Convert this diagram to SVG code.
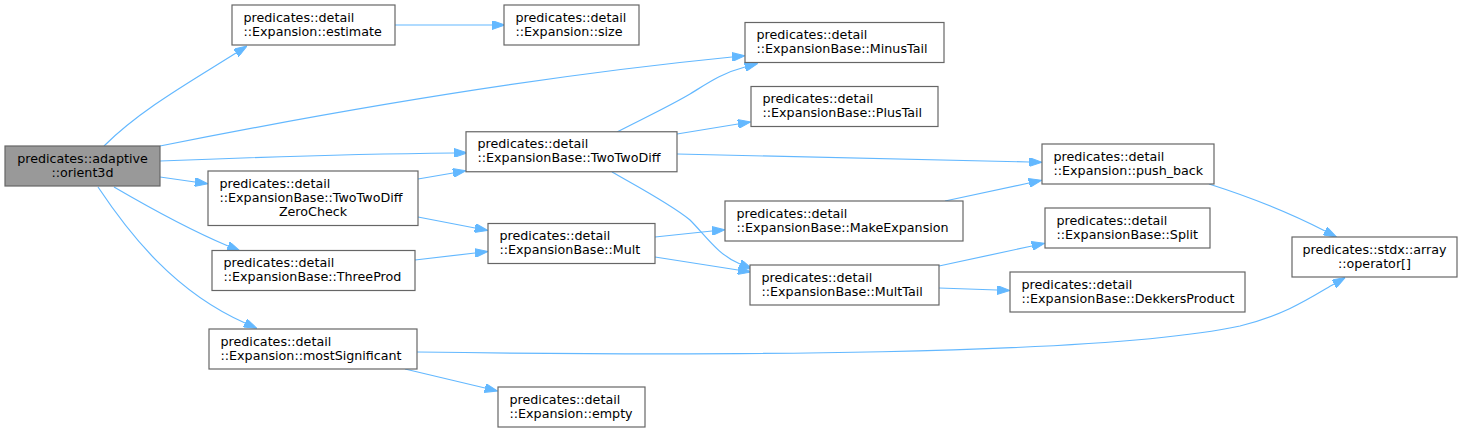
<svg xmlns="http://www.w3.org/2000/svg" width="1472" height="432" viewBox="0 0 1472 432">
<style>
.n rect{fill:#fff;stroke:#666;stroke-width:1.2}
.n.r rect{fill:#999}
text{font-family:"DejaVu Sans",sans-serif;font-size:12.7px;fill:#000}
.m{text-anchor:middle}
.e path{fill:none;stroke:#63b8ff;stroke-width:1.2;marker-end:url(#a)}
</style>
<defs>
<marker id="a" markerUnits="userSpaceOnUse" viewBox="0 0 13 9" refX="0" refY="4.5" markerWidth="13" markerHeight="9" orient="auto"><path d="M0,0L13,4.5L0,9z" fill="#63b8ff" stroke="#63b8ff" stroke-width="1"/></marker>
</defs>
<rect width="1472" height="432" fill="#fff"/>
<g class="e" id="edges">
<path d="M104,146 C140,110 190,82 236,53"/>
<path d="M395,25 L492,25"/>
<path d="M160,146 C300,118 520,78 732,57"/>
<path d="M160,161 C260,157 360,154 454,153"/>
<path d="M160,177 L195,182"/>
<path d="M114,187 C150,208 190,230 228,246"/>
<path d="M98,187 C130,235 175,292 245,323"/>
<path d="M418,179 L453,173"/>
<path d="M418,217 L475,228"/>
<path d="M415,260 L475,253"/>
<path d="M617,132 C640,120 668,107 690,94 C708,83 722,73 745,67"/>
<path d="M677,134 L738,124"/>
<path d="M677,154 C800,157 920,160 1029,162"/>
<path d="M612,172 C640,188 672,205 690,220 C706,236 718,255 740,264"/>
<path d="M655,237 L712,231"/>
<path d="M655,257 L738,270"/>
<path d="M945,201 L1029,183"/>
<path d="M939,266 L1032,246"/>
<path d="M939,288 L997,290"/>
<path d="M1209,184 C1250,197 1290,213 1325,231"/>
<path d="M417,352 C700,356 1100,356 1240,326 C1285,315 1310,298 1334,284"/>
<path d="M405,369 L485,388"/>
</g>
<g class="n r" id="orient3d"><rect x="5" y="146" width="155" height="40"/><text class="m" x="82.5" y="162.5">predicates::adaptive</text><text class="m" x="82.5" y="176.5">::orient3d</text></g>
<g class="n" id="estimate"><rect x="232" y="5" width="163" height="40"/><text x="243.5" y="21.5">predicates::detail</text><text x="243.5" y="35.5">::Expansion::estimate</text></g>
<g class="n" id="size"><rect x="504" y="5" width="135" height="40"/><text x="515.5" y="21.5">predicates::detail</text><text x="515.5" y="35.5">::Expansion::size</text></g>
<g class="n" id="minustail"><rect x="745" y="22.5" width="199" height="40"/><text x="756.5" y="39">predicates::detail</text><text x="756.5" y="53">::ExpansionBase::MinusTail</text></g>
<g class="n" id="plustail"><rect x="751" y="86.5" width="187" height="40"/><text x="762.5" y="103">predicates::detail</text><text x="762.5" y="117">::ExpansionBase::PlusTail</text></g>
<g class="n" id="twotwodiff"><rect x="466" y="131.75" width="211" height="40"/><text x="477.5" y="148.25">predicates::detail</text><text x="477.5" y="162.25">::ExpansionBase::TwoTwoDiff</text></g>
<g class="n" id="zerocheck"><rect x="208" y="171" width="210" height="54.5"/><text x="219.5" y="187.5">predicates::detail</text><text x="219.5" y="201.5">::ExpansionBase::TwoTwoDiff</text><text class="m" x="313" y="215.5">ZeroCheck</text></g>
<g class="n" id="threeprod"><rect x="212" y="250.5" width="203" height="40"/><text x="223.5" y="267">predicates::detail</text><text x="223.5" y="281">::ExpansionBase::ThreeProd</text></g>
<g class="n" id="mostsignificant"><rect x="209" y="329" width="208" height="40"/><text x="220.5" y="345.5">predicates::detail</text><text x="220.5" y="359.5">::Expansion::mostSignificant</text></g>
<g class="n" id="mult"><rect x="488" y="223.5" width="167" height="40"/><text x="499.5" y="240">predicates::detail</text><text x="499.5" y="254">::ExpansionBase::Mult</text></g>
<g class="n" id="makeexpansion"><rect x="725" y="201" width="238" height="40"/><text x="736.5" y="217.5">predicates::detail</text><text x="736.5" y="231.5">::ExpansionBase::MakeExpansion</text></g>
<g class="n" id="multtail"><rect x="750" y="265" width="189" height="40"/><text x="761.5" y="281.5">predicates::detail</text><text x="761.5" y="295.5">::ExpansionBase::MultTail</text></g>
<g class="n" id="empty"><rect x="498" y="387" width="147" height="40"/><text x="509.5" y="403.5">predicates::detail</text><text x="509.5" y="417.5">::Expansion::empty</text></g>
<g class="n" id="pushback"><rect x="1042" y="144" width="172" height="40"/><text x="1053.5" y="160.5">predicates::detail</text><text x="1053.5" y="174.5">::Expansion::push_back</text></g>
<g class="n" id="split"><rect x="1045" y="208" width="165" height="40"/><text x="1056.5" y="224.5">predicates::detail</text><text x="1056.5" y="238.5">::ExpansionBase::Split</text></g>
<g class="n" id="dekkersproduct"><rect x="1010" y="272" width="235" height="40"/><text x="1021.5" y="288.5">predicates::detail</text><text x="1021.5" y="302.5">::ExpansionBase::DekkersProduct</text></g>
<g class="n" id="operator"><rect x="1292" y="237" width="165" height="40"/><text class="m" x="1374.5" y="253.5">predicates::stdx::array</text><text class="m" x="1374.5" y="267.5">::operator[]</text></g>
</svg>
